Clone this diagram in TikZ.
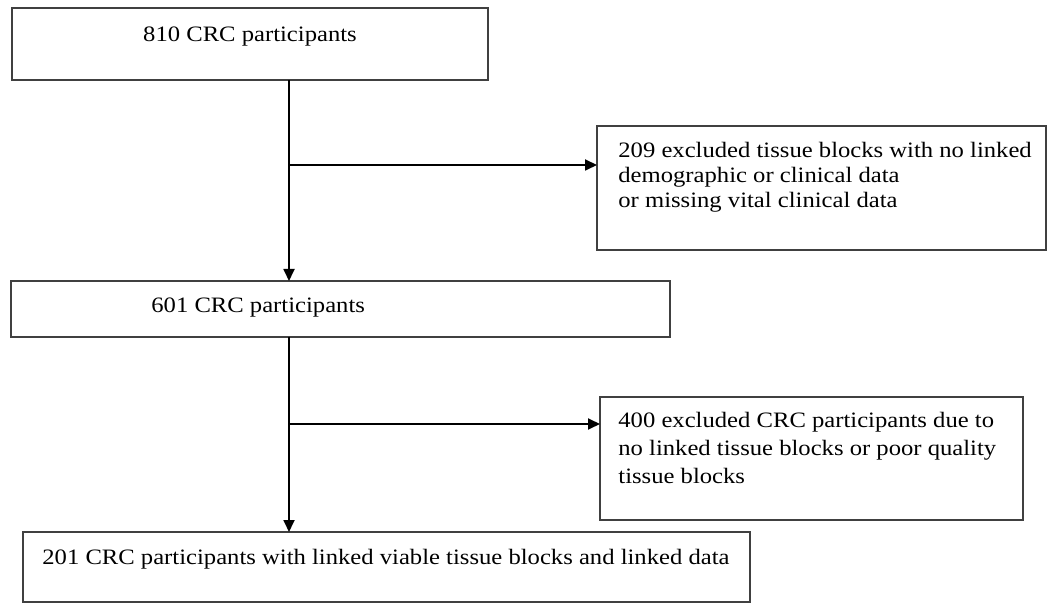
\documentclass[tikz,border=0pt]{standalone}
\usepackage{fontspec}
\setmainfont{Liberation Serif}[FakeStretch=1.12]
\usetikzlibrary{arrows.meta}

\tikzset{
  box/.style={draw=black!75, line width=1pt, inner sep=0pt, outer sep=0pt},
  lbl/.style={inner sep=0pt, font=\fontsize{11}{12.4}\selectfont, align=left},
  arr/.style={-{Triangle[length=6pt,width=5.5pt]}, line width=0.9pt},
}

\begin{document}
\begin{tikzpicture}
    \def\x{0.5pt}
    \def\y{-0.5pt}
    \useasboundingbox (0,0) rectangle (1048*\x, 603*\y);
    % boxes
    \node[box, minimum width=238pt, minimum height=36pt] (A0_0) at (250*\x, 44.5*\y) {};
    \node[box, minimum width=329.5pt, minimum height=28pt] (A1_0) at (340.5*\x, 309*\y) {};
    \node[box, minimum width=363.5pt, minimum height=35pt] (A2_0) at (386.5*\x, 567*\y) {};
    \node[box, minimum width=224.5pt, minimum height=62pt] (A0_1) at (821.5*\x, 188*\y) {};
    \node[box, minimum width=211.5pt, minimum height=61.5pt] (A1_1) at (811.5*\x, 458.5*\y) {};
    % texts
    \node[lbl, anchor=base] (L0_0) at (250*\x, 42*\y) {810 CRC participants};
    \node[lbl, anchor=base west] (L1_0) at (151*\x, 313*\y) {601 CRC participants};
    \node[lbl, anchor=base west] (L2_0) at (42*\x, 564*\y) {201 CRC participants with linked viable tissue blocks and linked data};
    \node[lbl, anchor=north west] (L0_1) at (618*\x, 142*\y) {209 excluded tissue blocks with no linked\\demographic or clinical data\\or missing vital clinical data};
    \node[lbl, anchor=north west, font=\fontsize{11}{14}\selectfont] (L1_1) at (618*\x, 412*\y) {400 excluded CRC participants due to\\no linked tissue blocks or poor quality\\tissue blocks};
    % connectors
    \coordinate (J0) at (289*\x, 165*\y);
    \coordinate (J1) at (289*\x, 424*\y);
    \path (A0_0.south -| J0) edge [arr] (A1_0.north -| J0);
    \path (J0) edge [arr] (J0 -| A0_1.west);
    \path (A1_0.south -| J1) edge [arr] (A2_0.north -| J1);
    \path (J1) edge [arr] (J1 -| A1_1.west);
\end{tikzpicture}
\end{document}
